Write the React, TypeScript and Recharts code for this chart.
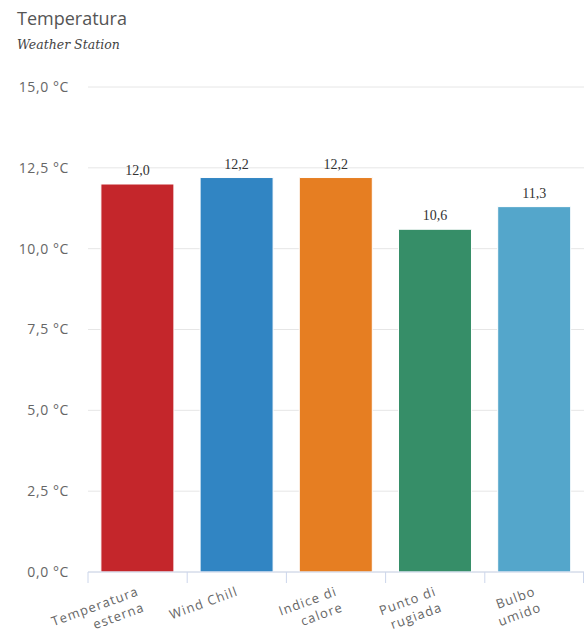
import { Bar, BarChart, CartesianGrid, Cell, LabelList, XAxis, YAxis } from 'recharts';

const categories = ['Temperatura esterna', 'Wind Chill', 'Indice di calore', 'Punto di rugiada', 'Bulbo umido'];
const values = [12.0, 12.2, 12.2, 10.6, 11.3];
const colors = ['#c4262b', '#3185c3', '#e67e22', '#368e68', '#54a6cb'];
const yTicks = [0, 2.5, 5, 7.5, 10, 12.5, 15];

const data = categories.map((name, i) => ({ name, value: values[i] }));

const fmt = (v: number) => v.toFixed(1).replace('.', ',');

// wrap a label into lines of at most 10 chars (single long words stay whole)
function wrap(label: string) {
  const lines: string[] = [];
  let cur = '';
  for (const w of label.split(' ')) {
    if (cur && (cur + ' ' + w).length > 10) {
      lines.push(cur);
      cur = w;
    } else {
      cur = cur ? cur + ' ' + w : w;
    }
  }
  if (cur) lines.push(cur);
  return lines;
}

function XTick(props: any) {
  const { x, y, payload, index } = props;
  const half = payload.offset ?? 49.6;
  const lines = wrap(payload.value);
  const ax = x + 2;
  const ay = y + 23;
  return (
    <g>
      <line x1={x - half} x2={x - half} y1={y} y2={y + 11} stroke="#ccd6eb" />
      {index === categories.length - 1 && (
        <line x1={x + half - 0.5} x2={x + half - 0.5} y1={y} y2={y + 11} stroke="#ccd6eb" />
      )}
      <text
        x={ax}
        y={ay}
        textAnchor="end"
        transform={`rotate(-20, ${ax}, ${ay})`}
        fill="#666"
        fontSize={13}
        letterSpacing={1.1}
        fontFamily="Open Sans"
      >
        {lines.map((l, i) => (
          <tspan key={i} x={ax} dy={i === 0 ? 0 : 17}>
            {l}
          </tspan>
        ))}
      </text>
    </g>
  );
}

export default function App() {
  return (
    <div style={{ position: 'absolute', left: 0, top: 0, width: 584, height: 632, background: '#fff' }}>
      <div
        style={{
          position: 'absolute',
          left: 17,
          top: 6,
          fontFamily: 'Open Sans',
          fontSize: 18,
          color: '#555',
          lineHeight: '25px',
        }}
      >
        Temperatura
      </div>
      <div
        style={{
          position: 'absolute',
          left: 17,
          top: 37,
          fontFamily: 'DejaVu Serif',
          fontStyle: 'italic',
          fontSize: 12.5,
          color: '#444',
          lineHeight: '16px',
        }}
      >
        Weather Station
      </div>
      <BarChart
        width={584}
        height={632}
        data={data}
        margin={{ top: 87, right: 0, bottom: 0, left: 0 }}
        barCategoryGap="13%"
      >
        <CartesianGrid vertical={false} stroke="#e6e6e6" />
        <XAxis
          dataKey="name"
          height={60}
          interval={0}
          axisLine={{ stroke: '#ccd6eb' }}
          tickLine={false}
          tickSize={0}
          tickMargin={0}
          tick={<XTick />}
        />
        <YAxis
          width={88}
          domain={[0, 15]}
          ticks={yTicks}
          interval={0}
          axisLine={false}
          tickLine={false}
          tickSize={0}
          tickMargin={19}
          tickFormatter={(v: number) => `${fmt(v)} °C`}
          tick={{ fill: '#666', fontSize: 14, fontFamily: 'Open Sans', letterSpacing: 0.6 }}
        />
        <Bar dataKey="value" isAnimationActive={false} stroke="#fff" strokeWidth={1}>
          {data.map((d, i) => (
            <Cell key={d.name} fill={colors[i]} />
          ))}
          <LabelList
            dataKey="value"
            position="top"
            offset={9}
            formatter={(v: any) => fmt(Number(v))}
            fill="#333"
            fontSize={14}
            fontFamily="Liberation Serif"
          />
        </Bar>
      </BarChart>
    </div>
  );
}
